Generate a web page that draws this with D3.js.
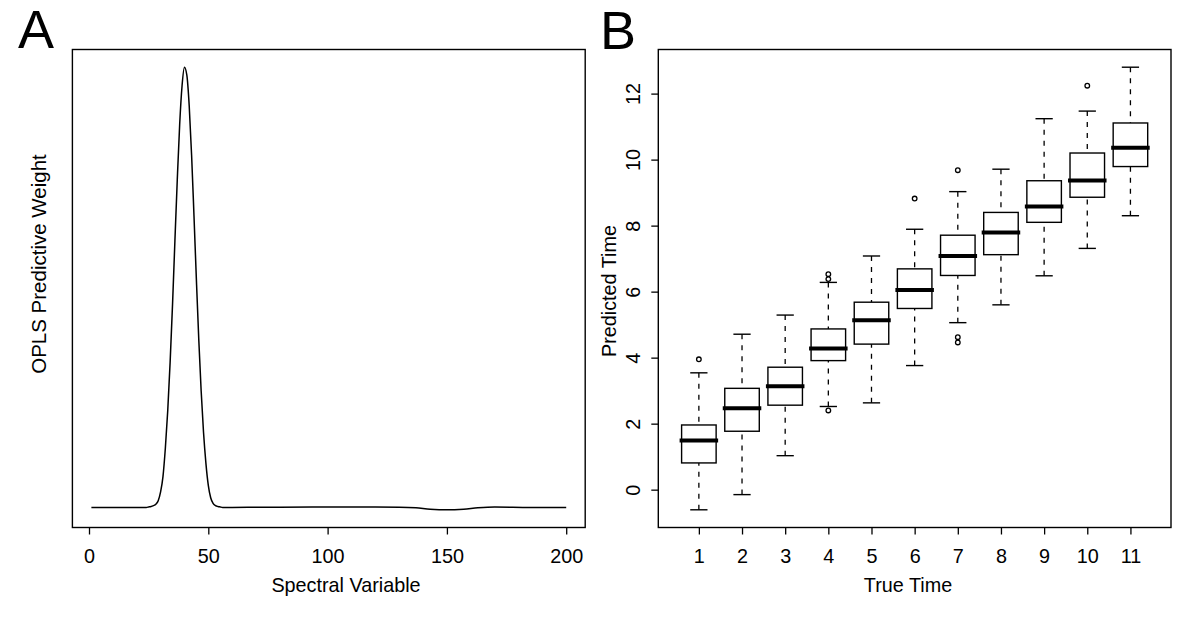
<!DOCTYPE html>
<html>
<head>
<meta charset="utf-8">
<script src="https://cdn.jsdelivr.net/npm/d3@7"></script>
<style>
  html, body { margin: 0; padding: 0; background: #fff; }
  svg { display: block; }
  text { font-family: "Liberation Sans", Arial, sans-serif; fill: #000; }
</style>
</head>
<body>
<svg id="chart" width="1200" height="621"></svg>
<script>
// ---------- Panel A data: OPLS predictive weight per spectral variable ----------
const specVar = [1, 10, 20, 24, 25, 26, 27, 28, 29, 30, 31, 32, 33, 34, 35, 36, 37, 38, 39, 40,
  41, 42, 43, 44, 45, 46, 47, 48, 49, 50, 51, 52, 53, 54, 55, 56, 58, 60, 80, 100,
  120, 130, 137, 143, 150, 157, 163, 170, 185, 200];
const specWeight = [0, 0, 0, 0, 0.001, 0.002, 0.004, 0.007, 0.015, 0.035, 0.07, 0.135, 0.22, 0.33, 0.46, 0.605, 0.745, 0.87, 0.958, 1.0,
  0.982, 0.912, 0.80, 0.662, 0.518, 0.382, 0.265, 0.17, 0.10, 0.05, 0.022, 0.009, 0.004, 0.002, 0.001, 0, 0, 0, 0.0005, 0.001,
  0.001, 0.0005, -0.001, -0.004, -0.0055, -0.004, -0.001, 0.0008, 0, 0];
const specTicks = [0, 50, 100, 150, 200];

// ---------- Panel B data: boxplots of predicted time per true time ----------
const trueTime     = [1, 2, 3, 4, 5, 6, 7, 8, 9, 10, 11];
const whiskerLow   = [-0.61, -0.15, 1.03, 2.52, 2.63, 3.76, 5.06, 5.60, 6.48, 7.31, 8.30];
const quartile1    = [0.81, 1.77, 2.56, 3.91, 4.41, 5.49, 6.49, 7.12, 8.10, 8.86, 9.79];
const medianValue  = [1.49, 2.47, 3.13, 4.28, 5.13, 6.05, 7.08, 7.79, 8.58, 9.37, 10.36];
const quartile3    = [1.96, 3.07, 3.71, 4.87, 5.68, 6.69, 7.71, 8.40, 9.36, 10.20, 11.11];
const whiskerHigh  = [3.54, 4.71, 5.29, 6.28, 7.08, 7.89, 9.03, 9.71, 11.24, 11.47, 12.80];
const outlierTime  = [1, 4, 4, 4, 6, 7, 7, 7, 10];
const outlierValue = [3.95, 2.40, 6.38, 6.53, 8.82, 9.68, 4.62, 4.46, 12.24];
const predTicks = [0, 2, 4, 6, 8, 10, 12];

// ---------- Layout ----------
const svg = d3.select("#chart");
svg.append("rect").attr("width", 1200).attr("height", 621).attr("fill", "#fff");

const plotTop = 49.5, plotBottom = 527.5;
const A = { left: 72.4, right: 585.2 };
const B = { left: 658.3, right: 1171 };
const FS = 19.8;

function rPad(lo, hi) { const p = (hi - lo) * 0.04; return [lo - p, hi + p]; }

// ---------- Panel A ----------
const xA = d3.scaleLinear().domain(rPad(d3.min(specVar), d3.max(specVar))).range([A.left, A.right]);
const yA = d3.scaleLinear().domain(rPad(d3.min(specWeight), d3.max(specWeight))).range([plotBottom, plotTop]);

const gA = svg.append("g");
const line = d3.line().x((d, i) => xA(specVar[i])).y((d, i) => yA(specWeight[i])).curve(d3.curveMonotoneX);
gA.append("path").datum(specWeight).attr("d", line)
  .attr("fill", "none").attr("stroke", "#000").attr("stroke-width", 1.5);

const axA = gA.append("g").attr("transform", `translate(0,${plotBottom})`)
  .call(d3.axisBottom(xA).tickValues(specTicks).tickSize(7).tickPadding(14).tickFormat(d3.format("d")));
axA.select(".domain").remove();
axA.selectAll("line").attr("stroke", "#000").attr("stroke-width", 1.3);
axA.selectAll("text").attr("font-size", FS).attr("font-family", "Liberation Sans, Arial, sans-serif");

gA.append("rect").attr("x", A.left).attr("y", plotTop).attr("width", A.right - A.left).attr("height", plotBottom - plotTop)
  .attr("fill", "none").attr("stroke", "#000").attr("stroke-width", 1.4);

gA.append("text").attr("x", 346).attr("y", 592).attr("text-anchor", "middle")
  .attr("font-size", FS).text("Spectral Variable");
gA.append("text").attr("transform", "translate(45.5,264) rotate(-90)").attr("text-anchor", "middle")
  .attr("font-size", 20.5).text("OPLS Predictive Weight");
gA.append("text").attr("x", 18).attr("y", 48).attr("font-size", 54).text("A");

// ---------- Panel B ----------
const allB = whiskerLow.concat(whiskerHigh, outlierValue);
const xB = d3.scaleLinear().domain(rPad(0.5, 11.5)).range([B.left, B.right]);
const yB = d3.scaleLinear().domain(rPad(d3.min(allB), d3.max(allB))).range([plotBottom, plotTop]);

const gB = svg.append("g");
const boxW = 0.8, capW = 0.4;
const boxes = trueTime.map((t, i) => ({ t, lo: whiskerLow[i], q1: quartile1[i], med: medianValue[i], q3: quartile3[i], hi: whiskerHigh[i] }));

const bg = gB.selectAll("g.box").data(boxes).join("g").attr("class", "box");
bg.append("line").attr("x1", d => xB(d.t)).attr("x2", d => xB(d.t))
  .attr("y1", d => yB(d.lo)).attr("y2", d => yB(d.q1))
  .attr("stroke", "#000").attr("stroke-width", 1.3).attr("stroke-dasharray", "5,6");
bg.append("line").attr("x1", d => xB(d.t)).attr("x2", d => xB(d.t))
  .attr("y1", d => yB(d.hi)).attr("y2", d => yB(d.q3))
  .attr("stroke", "#000").attr("stroke-width", 1.3).attr("stroke-dasharray", "5,6");
["lo", "hi"].forEach(k => {
  bg.append("line").attr("x1", d => xB(d.t - capW / 2)).attr("x2", d => xB(d.t + capW / 2))
    .attr("y1", d => yB(d[k])).attr("y2", d => yB(d[k]))
    .attr("stroke", "#000").attr("stroke-width", 1.4);
});
bg.append("rect").attr("x", d => xB(d.t - boxW / 2)).attr("width", d => xB(d.t + boxW / 2) - xB(d.t - boxW / 2))
  .attr("y", d => yB(d.q3)).attr("height", d => yB(d.q1) - yB(d.q3))
  .attr("fill", "#fff").attr("stroke", "#000").attr("stroke-width", 1.4);
bg.append("line").attr("x1", d => xB(d.t - boxW / 2)).attr("x2", d => xB(d.t + boxW / 2))
  .attr("y1", d => yB(d.med)).attr("y2", d => yB(d.med))
  .attr("stroke", "#000").attr("stroke-width", 4).attr("stroke-linecap", "square");
gB.selectAll("circle.out").data(outlierValue).join("circle").attr("class", "out")
  .attr("cx", (d, i) => xB(outlierTime[i])).attr("cy", d => yB(d)).attr("r", 2.3)
  .attr("fill", "none").attr("stroke", "#000").attr("stroke-width", 1.3);

const axBx = gB.append("g").attr("transform", `translate(0,${plotBottom})`)
  .call(d3.axisBottom(xB).tickValues(trueTime).tickSize(7).tickPadding(14).tickFormat(d3.format("d")));
axBx.select(".domain").remove();
axBx.selectAll("line").attr("stroke", "#000").attr("stroke-width", 1.3);
axBx.selectAll("text").attr("font-size", FS).attr("font-family", "Liberation Sans, Arial, sans-serif");

const axBy = gB.append("g").attr("transform", `translate(${B.left},0)`)
  .call(d3.axisLeft(yB).tickValues(predTicks).tickSize(7).tickFormat(d3.format("d")));
axBy.select(".domain").remove();
axBy.selectAll("line").attr("stroke", "#000").attr("stroke-width", 1.3);
axBy.selectAll("text").attr("font-size", FS).attr("font-family", "Liberation Sans, Arial, sans-serif")
  .attr("x", null).attr("dy", null).attr("text-anchor", "middle")
  .attr("transform", "translate(-18.5,0) rotate(-90)");

gB.append("rect").attr("x", B.left).attr("y", plotTop).attr("width", B.right - B.left).attr("height", plotBottom - plotTop)
  .attr("fill", "none").attr("stroke", "#000").attr("stroke-width", 1.4);

gB.append("text").attr("x", 908).attr("y", 592).attr("text-anchor", "middle")
  .attr("font-size", FS).text("True Time");
gB.append("text").attr("transform", "translate(615.5,291) rotate(-90)").attr("text-anchor", "middle")
  .attr("font-size", FS).text("Predicted Time");
gB.append("text").attr("x", 600).attr("y", 49).attr("font-size", 54).text("B");
</script>
</body>
</html>
